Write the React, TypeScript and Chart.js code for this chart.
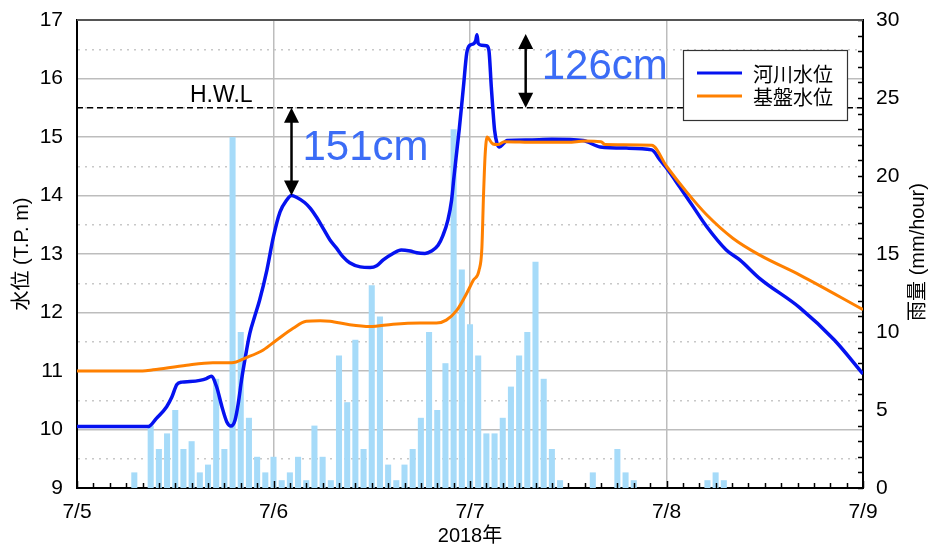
import React, { useEffect, useRef } from 'react';
import { Chart, registerables } from 'chart.js';

Chart.register(...registerables);

// ---- Data ----
const dayLabels = ['7/5', '7/6', '7/7', '7/8', '7/9'];
const xTitle = '2018年';
const leftTitle = '水位 (T.P. m)';
const rightTitle = '雨量 (mm/hour)';
const riverLabel = '河川水位';
const baseLabel = '基盤水位';

// hourly rainfall (hours from 7/5 0:00)
const rainHours = [7, 9, 10, 11, 12, 13, 14, 15, 16, 17, 18, 19, 20, 21, 22, 23, 24, 25, 26, 27, 28, 29, 30, 31, 32, 33, 34, 35, 36, 37, 38, 39, 40, 41, 42, 43, 44, 45, 46, 47, 48, 49, 50, 51, 52, 53, 54, 55, 56, 57, 58, 59, 63, 66, 67, 68, 77, 78, 79];
const rainValues = [1, 4, 2.5, 3.5, 5, 2.5, 3, 1, 1.5, 7, 2.5, 22.5, 10, 4.5, 2, 1, 2, 0.5, 1, 2, 0.5, 4, 2, 0.5, 8.5, 5.5, 9.5, 2.5, 13, 11, 1.5, 0.5, 1.5, 2.5, 4.5, 10, 5, 8, 23, 14, 10.5, 8.5, 3.5, 3.5, 4.5, 6.5, 8.5, 10, 14.5, 7, 2.5, 0.5, 1, 2.5, 1, 0.5, 0.5, 1, 0.5];

// river water level
const riverHours = [0, 8.7, 9.7, 10.95, 11.6, 12.2, 12.8, 13.8, 15.0, 15.8, 16.4, 17.05, 17.7, 18.3, 18.8, 19.3, 19.7, 20.1, 20.5, 21.1, 21.7, 22.3, 23.2, 24.0, 24.8, 25.6, 26.2, 26.8, 27.8, 28.5, 29.3, 30.1, 30.9, 31.7, 32.5, 33.3, 34.6, 35.8, 36.6, 37.4, 38.6, 39.6, 40.7, 41.5, 42.5, 43.3, 44.1, 44.7, 45.3, 45.75, 46.0, 46.3, 46.7, 47.2, 47.6, 48.0, 48.4, 48.7, 48.85, 49.0, 49.4, 50.0, 50.3, 50.6, 50.8, 51.0, 51.3, 51.6, 52.1, 52.5, 55, 58, 61.8, 63.9, 67.1, 70.2, 71.2, 72.0, 73.6, 75.25, 76.9, 79.3, 80.95, 83.4, 88.3, 92.5, 96];
const riverLevels = [10.05, 10.05, 10.19, 10.39, 10.56, 10.77, 10.81, 10.82, 10.84, 10.87, 10.91, 10.73, 10.39, 10.13, 10.06, 10.16, 10.45, 10.85, 11.19, 11.64, 11.93, 12.21, 12.73, 13.30, 13.72, 13.92, 14.0, 13.97, 13.88, 13.78, 13.62, 13.43, 13.24, 13.10, 12.95, 12.85, 12.78, 12.77, 12.80, 12.90, 13.01, 13.07, 13.05, 13.02, 13.01, 13.05, 13.15, 13.32, 13.58, 13.92, 14.26, 14.65, 15.15, 15.86, 16.43, 16.57, 16.59, 16.65, 16.75, 16.60, 16.57, 16.56, 16.49, 15.86, 15.46, 15.12, 14.89, 14.83, 14.89, 14.94, 14.95, 14.96, 14.94, 14.83, 14.81, 14.78, 14.61, 14.47, 14.15, 13.81, 13.47, 13.07, 12.90, 12.58, 12.08, 11.53, 10.95];

// groundwater (base) level
const baseHours = [0, 8, 9.3, 13.4, 16.6, 18.9, 20.7, 22.75, 24.4, 26.4, 28.0, 29.7, 30.9, 33.3, 35.8, 38.6, 41.9, 43.9, 45.1, 46.4, 47.6, 48.4, 49.1, 49.45, 49.65, 49.85, 50.1, 50.3, 50.8, 51.4, 52.2, 56, 60, 62, 64, 64.5, 70.2, 72.0, 74.4, 76.9, 80.1, 83.4, 88.3, 96];
const baseLevels = [11.0, 11.0, 11.02, 11.10, 11.14, 11.14, 11.23, 11.36, 11.53, 11.73, 11.85, 11.86, 11.85, 11.79, 11.76, 11.80, 11.82, 11.82, 11.87, 12.04, 12.33, 12.55, 12.72, 13.1, 14.0, 14.7, 15.0, 14.97, 14.88, 14.87, 14.92, 14.91, 14.91, 14.93, 14.92, 14.87, 14.86, 14.50, 14.07, 13.67, 13.27, 12.98, 12.64, 12.05];

const hwlLevel = 15.5;
const hwlLabel = 'H.W.L';
const arrowHours = [26.2, 54.8];
const arrowFrom = [15.5, 16.76];
const arrowTo = [14.0, 15.5];
const arrowLabels = ['151cm', '126cm'];

const FONT = '"Liberation Sans", Arial, "Noto Sans CJK JP", sans-serif';
const CJK = '"Noto Sans CJK JP", "Liberation Sans", sans-serif';
const BLUE = '#0512F0';
const ORANGE = '#FF8000';
const RAIN = '#A6DBF9';

const overlayPlugin = {
  id: 'overlay',
  beforeDatasetsDraw(chart: any) {
    const { ctx, chartArea: a, scales } = chart;
    const y = scales.y.getPixelForValue(hwlLevel);
    ctx.save();
    ctx.strokeStyle = '#000';
    ctx.lineWidth = 1.5;
    ctx.setLineDash([6, 4]);
    ctx.beginPath();
    ctx.moveTo(a.left, y);
    ctx.lineTo(a.right, y);
    ctx.stroke();
    ctx.setLineDash([]);
    ctx.fillStyle = '#000';
    ctx.font = '23px ' + FONT;
    ctx.textAlign = 'left';
    ctx.textBaseline = 'alphabetic';
    ctx.fillText(hwlLabel, scales.x.getPixelForValue(13.8), y - 6);
    ctx.restore();
  },
  afterDatasetsDraw(chart: any) {
    const { ctx, chartArea: a, scales } = chart;
    const xs = scales.x;
    const ys = scales.y;
    const y2 = scales.y2;
    ctx.save();
    // arrows + labels
    const dxs = [11, 16];
    arrowHours.forEach((h, i) => {
      const x = xs.getPixelForValue(h);
      const yTop = ys.getPixelForValue(Math.max(arrowFrom[i], arrowTo[i]));
      const yBot = ys.getPixelForValue(Math.min(arrowFrom[i], arrowTo[i]));
      const hl = 15, hw = 7.5;
      ctx.strokeStyle = '#000';
      ctx.fillStyle = '#000';
      ctx.lineWidth = 2.5;
      ctx.beginPath();
      ctx.moveTo(x, yTop + hl - 2);
      ctx.lineTo(x, yBot - hl + 2);
      ctx.stroke();
      ctx.beginPath();
      ctx.moveTo(x, yTop);
      ctx.lineTo(x - hw, yTop + hl);
      ctx.lineTo(x + hw, yTop + hl);
      ctx.closePath();
      ctx.fill();
      ctx.beginPath();
      ctx.moveTo(x, yBot);
      ctx.lineTo(x - hw, yBot - hl);
      ctx.lineTo(x + hw, yBot - hl);
      ctx.closePath();
      ctx.fill();
      ctx.fillStyle = '#3B6CF6';
      ctx.font = '42px ' + FONT;
      ctx.textAlign = 'left';
      ctx.textBaseline = 'alphabetic';
      ctx.fillText(arrowLabels[i], x + dxs[i], (yTop + yBot) / 2 + 8);
    });

    // inward minor ticks
    ctx.strokeStyle = '#000';
    ctx.lineWidth = 1.5;
    for (let h = 0; h <= 96; h += 2) {
      const px = Math.round(xs.getPixelForValue(h)) + 0.5;
      const len = h % 24 === 0 ? 7 : 5;
      ctx.beginPath();
      ctx.moveTo(px, a.bottom);
      ctx.lineTo(px, a.bottom - len);
      ctx.stroke();
    }
    for (let mm = 0; mm <= 30; mm += 1) {
      const py = Math.round(y2.getPixelForValue(mm)) + 0.5;
      ctx.beginPath();
      ctx.moveTo(a.right, py);
      ctx.lineTo(a.right - 5, py);
      ctx.stroke();
    }
    // top frame
    ctx.strokeStyle = '#555';
    ctx.lineWidth = 2;
    ctx.beginPath();
    ctx.moveTo(a.left, a.top);
    ctx.lineTo(a.right, a.top);
    ctx.stroke();

    // legend
    const bx = a.right - 180, by = a.top + 30, bw = 164, bh = 70;
    ctx.fillStyle = '#fff';
    ctx.fillRect(bx, by, bw, bh);
    ctx.strokeStyle = '#333';
    ctx.lineWidth = 1.2;
    ctx.strokeRect(bx + 0.5, by + 0.5, bw, bh);
    const items = chart.data.datasets.filter((d: any) => d.type === 'line');
    items.sort((p: any, q: any) => p.legendRank - q.legendRank);
    items.forEach((d: any, i: number) => {
      const ly = by + 23 + i * 23;
      ctx.strokeStyle = d.borderColor;
      ctx.lineWidth = 3;
      ctx.beginPath();
      ctx.moveTo(bx + 14, ly);
      ctx.lineTo(bx + 59, ly);
      ctx.stroke();
      ctx.fillStyle = '#000';
      ctx.font = '20px ' + CJK;
      ctx.textAlign = 'left';
      ctx.textBaseline = 'middle';
      ctx.fillText(d.label, bx + 70, ly + 1);
    });

    // right axis title
    ctx.fillStyle = '#000';
    ctx.font = '20px ' + FONT;
    ctx.textAlign = 'center';
    ctx.textBaseline = 'middle';
    ctx.translate(y2.right - 17, (a.top + a.bottom) / 2 - 2);
    ctx.rotate(-Math.PI / 2);
    ctx.fillText(rightTitle, 0, 0);
    ctx.restore();
  },
};

const fitVertical = (w: number) => (s: any) => {
  s.width = w;
  s.paddingTop = 10;
  s.paddingBottom = 10;
};

export default function App() {
  const ref = useRef<HTMLCanvasElement | null>(null);
  useEffect(() => {
    if (!ref.current) return;
    const chart = new Chart(ref.current, {
      type: 'line',
      data: {
        datasets: [
          {
            type: 'line',
            label: baseLabel,
            legendRank: 1,
            data: baseHours.map((h, i) => ({ x: h, y: baseLevels[i] })),
            borderColor: ORANGE,
            borderWidth: 3,
            pointRadius: 0,
            cubicInterpolationMode: 'monotone',
            yAxisID: 'y',
            order: 0,
          } as any,
          {
            type: 'line',
            label: riverLabel,
            legendRank: 0,
            data: riverHours.map((h, i) => ({ x: h, y: riverLevels[i] })),
            borderColor: BLUE,
            borderWidth: 3.5,
            pointRadius: 0,
            cubicInterpolationMode: 'monotone',
            yAxisID: 'y',
            order: 1,
          } as any,
          {
            type: 'bar',
            label: '雨量',
            data: rainHours.map((h, i) => ({ x: h, y: rainValues[i] })),
            backgroundColor: RAIN,
            borderWidth: 0,
            categoryPercentage: 1,
            barPercentage: 0.74,
            yAxisID: 'y2',
            order: 2,
          } as any,
        ],
      },
      options: {
        animation: false,
        responsive: true,
        maintainAspectRatio: false,
        layout: { padding: { top: 20, left: 0, right: 0, bottom: 0 } },
        plugins: { legend: { display: false }, tooltip: { enabled: false } },
        scales: {
          x: {
            type: 'linear',
            min: 0,
            max: 96,
            offset: false,
            afterFit: (s: any) => { s.height = 60; },
            ticks: {
              stepSize: 24,
              autoSkip: false,
              padding: 12,
              color: '#000',
              font: { size: 21, family: FONT },
              callback: (v: any) => dayLabels[Math.round(Number(v) / 24)] ?? '',
            },
            grid: { color: '#BDBDBD', lineWidth: 1.5, drawTicks: false, offset: false },
            border: { color: '#000', width: 2 },
            title: {
              display: true,
              text: xTitle,
              color: '#000',
              font: { size: 20, family: FONT },
              padding: { top: 0, bottom: 0 },
            },
          },
          y: {
            type: 'linear',
            position: 'left',
            min: 9,
            max: 17,
            afterFit: fitVertical(77),
            ticks: {
              stepSize: 0.5,
              autoSkip: false,
              padding: 14,
              color: '#000',
              font: { size: 21, family: FONT },
              callback: (v: any) => (Number.isInteger(Number(v)) ? String(v) : ''),
            },
            grid: {
              drawTicks: false,
              lineWidth: 1.5,
              color: (c: any) => (c.tick && !Number.isInteger(c.tick.value) ? '#C8C8C8' : '#BDBDBD'),
            },
            border: {
              color: '#000',
              width: 2,
              dash: (c: any) => (c.tick && !Number.isInteger(c.tick.value) ? [2, 5] : []),
            },
            title: {
              display: true,
              text: leftTitle,
              color: '#000',
              font: { size: 20, family: FONT },
              padding: { top: 10, bottom: 0 },
            },
          },
          y2: {
            type: 'linear',
            position: 'right',
            min: 0,
            max: 30,
            afterFit: fitVertical(72),
            ticks: {
              stepSize: 5,
              autoSkip: false,
              padding: 13,
              color: '#000',
              font: { size: 21, family: FONT },
            },
            grid: { display: false, drawTicks: false },
            border: { color: '#000', width: 2 },
          },
        },
      } as any,
      plugins: [overlayPlugin],
    });
    return () => chart.destroy();
  }, []);
  return (
    <div style={{ position: 'fixed', left: 0, top: 0, width: 935, height: 548, background: '#fff' }}>
      <canvas ref={ref} />
    </div>
  );
}
